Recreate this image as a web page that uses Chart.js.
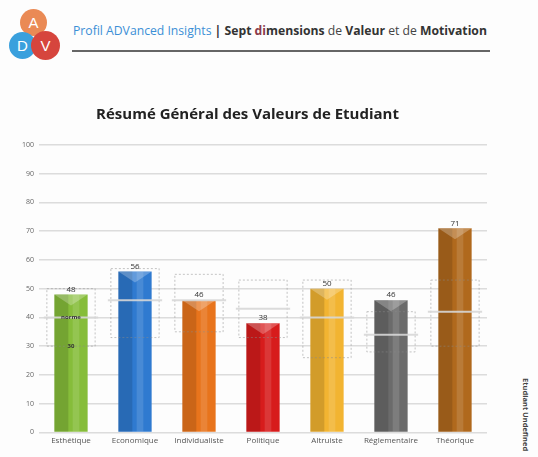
<!DOCTYPE html>
<html>
<head>
<meta charset="utf-8">
<script src="https://cdn.jsdelivr.net/npm/chart.js@4"></script>
<style>
  body { margin: 0; background: #fdfdfd; font-family: 'Open Sans', sans-serif; }
  #page { position: relative; width: 538px; height: 457px; overflow: hidden; }
  .dot { position: absolute; border-radius: 50%; color: #fff; font: 15px 'Liberation Sans', sans-serif;
         display: flex; align-items: center; justify-content: center; }
  #head { position: absolute; left: 73px; top: 22px; font: 12.2px 'Open Sans', sans-serif; color: #444; white-space: nowrap; }
  #head .blue { color: #3b8fd6; }
  #head b { color: #333; }
  #rule { position: absolute; left: 72px; top: 50px; width: 418px; height: 2px; background: #666; }
  #side { position: absolute; left: 521px; top: 378px; font: bold 7.5px 'Open Sans', sans-serif; color: #444;
          transform-origin: 0 0; transform: rotate(90deg) translateY(-10px); white-space: nowrap; }
  #chartbox { position: absolute; left: 0; top: 0; width: 538px; height: 457px; }
</style>
</head>
<body>
<div id="page">
  <div class="dot" style="left:20px;top:9px;width:27px;height:27px;background:#ea8a55;">A</div>
  <div class="dot" style="left:9px;top:32px;width:27px;height:27px;background:#3aa0dd;">D</div>
  <div class="dot" style="left:31px;top:31px;width:29px;height:29px;background:#d6453d;">V</div>
  <div id="head"><span class="blue">Profil ADVanced Insights</span> <b>|</b> <b>Sept <span style="color:#8a3a4a">di</span>mensions</b> de <b>Valeur</b> et de <b>Motivation</b></div>
  <div id="rule"></div>
  <div id="side">Etudiant Undefined</div>
  <div id="chartbox"><canvas id="c"></canvas></div>
</div>
<script>
const categories = ['Esthétique', 'Economique', 'Individualiste', 'Politique', 'Altruiste', 'Réglementaire', 'Théorique']
const scores = [48, 56, 46, 38, 50, 46, 71]
const normLow = [30, 33, 35, 33, 26, 28, 30]
const normMid = [40, 46, 46, 43, 40, 34, 42]
const normHigh = [50, 57, 55, 53, 53, 42, 53]
const barColors = ['#86bd3a', '#2f7ad0', '#e8741c', '#d71c1c', '#f2b431', '#6b6b6b', '#b0691d']
const yTicks = [0, 10, 20, 30, 40, 50, 60, 70, 80, 90, 100]

// norm boxes, bar shading and value labels
const overlay = {
  id: 'overlay',
  afterDatasetsDraw (chart) {
    const ctx = chart.ctx
    const y = chart.scales.y
    const meta = chart.getDatasetMeta(0)
    meta.data.forEach((bar, i) => {
      const w = bar.width
      const left = bar.x - w / 2
      const top = bar.y
      const bottom = bar.base
      ctx.save()
      // cylinder shading
      ctx.fillStyle = 'rgba(0,0,0,0.13)'
      ctx.fillRect(left, top, w * 0.42, bottom - top)
      ctx.fillStyle = 'rgba(255,255,255,0.12)'
      ctx.fillRect(left + w * 0.55, top, w * 0.2, bottom - top)
      // chevron on top
      ctx.beginPath()
      ctx.moveTo(left, top)
      ctx.lineTo(left + w, top)
      ctx.lineTo(bar.x, top + 11)
      ctx.closePath()
      ctx.fillStyle = 'rgba(255,255,255,0.25)'
      ctx.fill()

      // norm box
      const bw = w * 1.45
      const bl = bar.x - bw / 2
      const yl = y.getPixelForValue(normLow[i])
      const ym = y.getPixelForValue(normMid[i])
      const yh = y.getPixelForValue(normHigh[i])
      ctx.setLineDash([2, 2])
      ctx.strokeStyle = 'rgba(140,140,140,0.5)'
      ctx.lineWidth = 1
      ctx.strokeRect(bl, yh, bw, yl - yh)
      ctx.setLineDash([])
      ctx.strokeStyle = 'rgba(215,215,215,0.9)'
      ctx.lineWidth = 2
      ctx.beginPath()
      ctx.moveTo(bl - 3, ym)
      ctx.lineTo(bl + bw + 3, ym)
      ctx.stroke()

      // value label
      ctx.fillStyle = '#333'
      ctx.font = '8px "Open Sans"'
      ctx.textAlign = 'center'
      ctx.textBaseline = 'bottom'
      ctx.fillText(String(scores[i]), bar.x, top - 1)
      if (i === 0) {
        ctx.font = 'bold 6px "Open Sans"'
        ctx.textBaseline = 'middle'
        ctx.fillText('norme', bar.x, ym)
        ctx.fillText(String(normLow[i]), bar.x, yl)
      }
      ctx.restore()
    })
  }
}

new Chart(document.getElementById('c'), {
  type: 'bar',
  data: {
    labels: categories,
    datasets: [{
      data: scores,
      backgroundColor: barColors,
      borderWidth: 0,
      barPercentage: 0.52,
      categoryPercentage: 1
    }]
  },
  options: {
    responsive: true,
    maintainAspectRatio: false,
    animation: false,
    layout: { padding: { top: 100, left: 8, right: 51, bottom: 7 } },
    scales: {
      x: {
        grid: { display: false, drawTicks: false },
        border: { display: false },
        ticks: { color: '#555', font: { size: 8, family: 'Open Sans' }, padding: 4 }
      },
      y: {
        min: 0,
        max: 100,
        afterFit: s => { s.width = 31 },
        afterBuildTicks: s => { s.ticks = yTicks.map(v => ({ value: v })) },
        grid: { color: '#dcdcdc', lineWidth: 1.5, drawTicks: false },
        border: { display: false },
        ticks: { color: '#666', font: { size: 7, family: 'Open Sans' }, padding: 5 }
      }
    },
    plugins: {
      legend: { display: false },
      tooltip: { enabled: false },
      title: {
        display: true,
        text: 'Résumé Général des Valeurs de Etudiant',
        color: '#222',
        font: { size: 15, weight: 'bold', family: 'Open Sans' },
        padding: { top: 6, bottom: 21 }
      }
    }
  },
  plugins: [overlay]
})
</script>
</body>
</html>
